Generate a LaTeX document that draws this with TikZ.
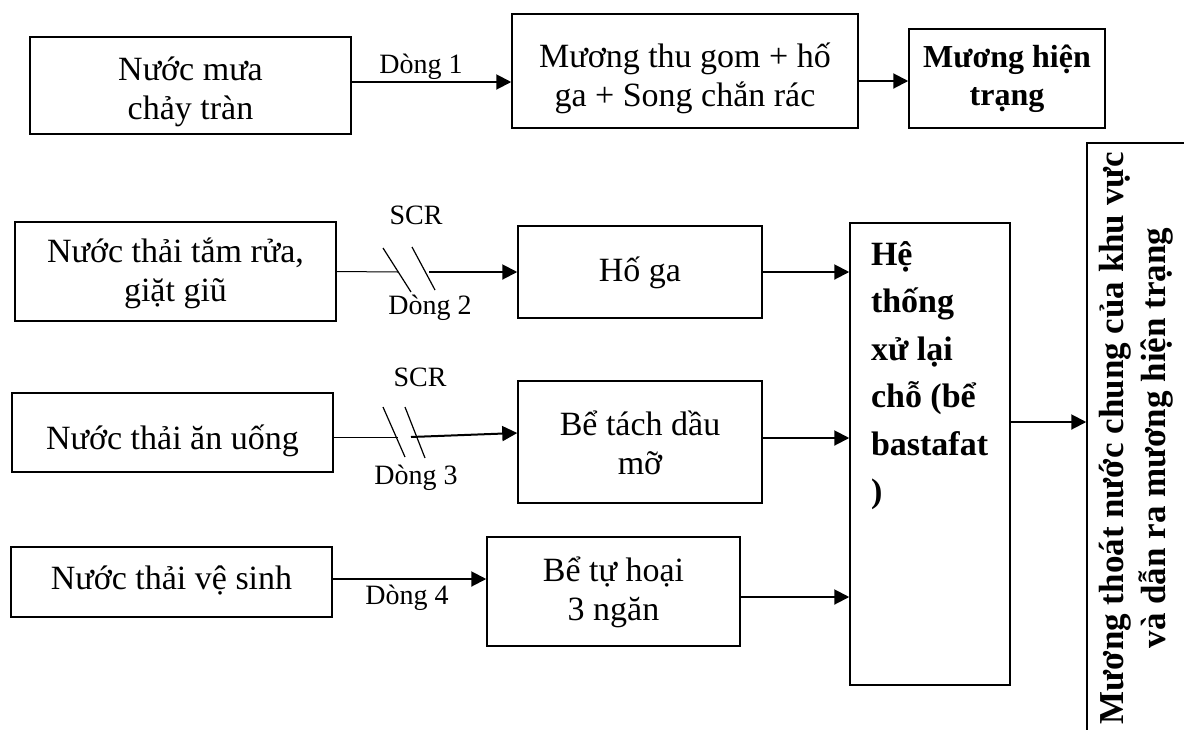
\documentclass[tikz,border=0pt]{standalone}
\usepackage{fontspec}
\setmainfont{Liberation Serif}
\usetikzlibrary{arrows.meta}
\newcommand{\bxt}[2][0pt]{\raisebox{-#1}[\height][\depth]{\begin{tabular}{@{}c@{}}#2\end{tabular}}}
\begin{document}
\begin{tikzpicture}[x=0.5pt,y=-0.5pt,
  box/.style={draw, line width=0.75pt, rectangle, inner sep=0pt, font=\fontsize{17pt}{19.5pt}\selectfont},
  plainbox/.style={draw, line width=0.75pt, rectangle, inner sep=0pt},
  lbl/.style={inner sep=0pt, font=\fontsize{14pt}{16pt}\selectfont},
  arr/.style={line width=1pt, -{Triangle[length=7.5pt,width=7.5pt]}},
  thinline/.style={line width=0.5pt},
  slash/.style={line width=0.6pt}]
\useasboundingbox (0,0) rectangle (1184,729);
\clip (0,0) rectangle (1184,729);

% top row
\node[box, minimum width=160.5pt, minimum height=48.5pt] (A) at (190.5,85.5) {\bxt[3.5pt]{Nước mưa\\chảy tràn}};
\node[box, minimum width=173pt, minimum height=57pt] (B) at (685,71) {\bxt[4pt]{Mương thu gom + hố\\ga + Song chắn rác}};
\node[box, minimum width=98pt, minimum height=49.5pt, font=\fontsize{16pt}{19pt}\selectfont\bfseries] (C) at (1007,78.5) {\bxt{Mương hiện\\trạng}};
\draw[arr] ([yshift=1.75pt]A.east) -- (B.west |- 0,82);
\node[lbl] (L1) at (421,67) {Dòng 1};
\draw[arr] (B.east |- 0,81) -- (C.west |- 0,81);

% row 2
\node[box, minimum width=160.5pt, minimum height=49.5pt] (D) at (175.5,271.5) {\bxt[1.5pt]{Nước thải tắm rửa,\\giặt giũ}};
\node[box, minimum width=122pt, minimum height=46pt] (E) at (640,272) {\bxt[1pt]{Hố ga}};
\coordinate (s2a) at (398,272);
\coordinate (s2b) at (429,272);
\draw[thinline] (D.east) -- (s2a);
\draw[slash] (383,248) -- (411,292);
\draw[slash] (412,247) -- (435,290);
\draw[arr] (s2b) -- (E.west);
\node[lbl] (SCR2) at (416,215) {SCR};
\node[lbl] (L2) at (430,308) {Dòng 2};

% row 3
\node[box, minimum width=160.5pt, minimum height=39.5pt] (F) at (172.5,432.5) {\bxt[4.5pt]{Nước thải ăn uống}};
\node[box, minimum width=122pt, minimum height=61pt] (G) at (640,442) {\bxt[2.5pt]{Bể tách dầu\\mỡ}};
\coordinate (s3a) at (398,437);
\coordinate (s3b) at (411,437);
\draw[thinline] ([yshift=-2.25pt]F.east) -- (s3a);
\draw[slash] (383,407) -- (405,457);
\draw[slash] (405,407) -- (425,458);
\draw[arr] (s3b) -- (G.west |- 0,433);
\node[lbl] (SCR3) at (420,377) {SCR};
\node[lbl] (L3) at (416,478) {Dòng 3};

% row 4
\node[box, minimum width=160.5pt, minimum height=35pt] (I) at (171.5,582) {\bxt{Nước thải vệ sinh}};
\node[box, minimum width=126.5pt, minimum height=54.5pt] (J) at (613.5,591.5) {\bxt[1pt]{Bể tự hoại\\3 ngăn}};
\draw[arr] ([yshift=1.5pt]I.east) -- (J.west |- 0,579);
\node[lbl] (L4) at (407,598) {Dòng 4};

% treatment box
\node[plainbox, minimum width=80pt, minimum height=231pt] (H) at (930,454)
  {\parbox[c][231pt][t]{80pt}{\raggedright\leftskip=10.5pt\fontsize{17pt}{23.75pt}\selectfont\bfseries
   \rule{0pt}{21pt}Hệ\\thống\\xử lại\\chỗ (bể\\bastafat\\)}};
\draw[arr] (E.east) -- (H.west |- E.east);
\draw[arr] ([yshift=2pt]G.east) -- (H.west |- 0,438);
\draw[arr] ([yshift=-2.75pt]J.east) -- (H.west |- 0,597);

% outlet box (cut by the page edge)
\node[draw, line width=0.75pt, rotate=90, inner sep=0pt, minimum width=295pt, minimum height=49pt,
  align=center, font=\fontsize{17.5pt}{21pt}\selectfont\bfseries] (K) at (1136,438)
  {Mương thoát nước chung của khu vực\\và dẫn ra mương hiện trạng};
\draw[arr] (H.east |- 0,422) -- (K.north |- 0,422);
\end{tikzpicture}
\end{document}
